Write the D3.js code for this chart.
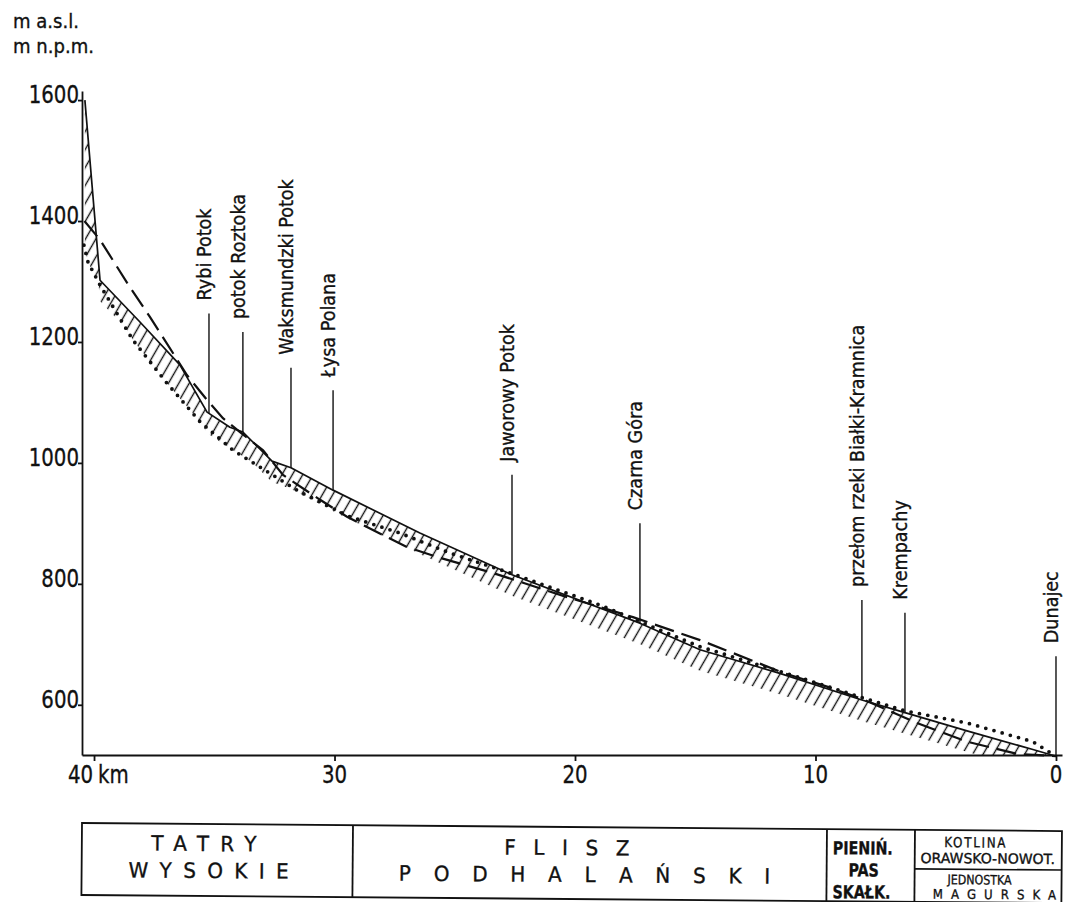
<!DOCTYPE html>
<html>
<head>
<meta charset="utf-8">
<script src="https://cdnjs.cloudflare.com/ajax/libs/d3/7.8.5/d3.min.js"></script>
<style>
body { margin: 0; background: #fff; }
svg text { font-family: "DejaVu Sans", sans-serif; fill: #111; stroke: #111; stroke-width: 0.35px; }
</style>
</head>
<body>
<div class="figure"></div>
<script>
// longitudinal profile, km above the Dunajec mouth vs. m a.s.l.
var riverKm   = [40.38, 39.75, 38.09, 36.43, 35.30, 34.35, 33.81, 32.60, 31.81, 30.06, 26.45, 22.62, 17.30, 14.80, 11.48, 8.07, 6.28, 3.70, 0.96, 0]
var riverElev = [1600, 1302, 1233, 1162, 1084, 1059, 1051, 1003, 992, 955, 884, 815, 735, 691, 652, 608, 587, 557, 526, 515]

var dashedKm   = [40.40, 39.75, 38.63, 37.67, 36.13, 35.30, 34.64, 33.93, 32.97, 32.14, 30.60, 29.48, 28.65, 26.99, 25.61, 23.41, 20.33, 17.59, 14.80, 11.35, 9.52, 8.07, 5.78, 3.70, 1.62, 0]
var dashedElev = [1400, 1369, 1298, 1241, 1145, 1104, 1074, 1051, 1021, 980, 939, 911, 894, 861, 843, 818, 778, 745, 707, 653, 630, 610, 570, 539, 519, 515]

var dottedKm   = [40.42, 40.25, 39.75, 38.38, 36.97, 35.59, 34.22, 32.89, 31.44, 29.36, 27.28, 25.20, 22.70, 18.96, 14.80, 10.65, 8.07, 6.28, 3.70, 0.96, 0]
var dottedElev = [1360, 1332, 1294, 1203, 1132, 1068, 1021, 988, 952, 911, 884, 851, 818, 765, 696, 645, 612, 590, 570, 539, 515]

var placeNames = ["Rybi Potok", "potok Roztoka", "Waksmundzki Potok", "Łysa Polana", "Jaworowy Potok",
                  "Czarna Góra", "przełom rzeki Białki-Kramnica", "Krempachy", "Dunajec"]
var placeKm = [35.22, 33.81, 31.81, 30.06, 22.62, 17.30, 8.07, 6.28, 0]

var yTicks = [600, 800, 1000, 1200, 1400, 1600]
var xTicks = [40, 30, 20, 10, 0]

var unitLines = ["m a.s.l.", "m n.p.m."]

var dim = {w: 1067, h: 902}

var svg = d3.select("div.figure")
    .append("svg")
    .attr("width", dim.w)
    .attr("height", dim.h)

svg.append("rect").attr("width", dim.w).attr("height", dim.h).attr("fill", "#fff")

var xScale = d3.scaleLinear().domain([40.5, -0.25]).range([82, 1062])
var yScale = d3.scaleLinear().domain([517, 1615]).range([755, 91])
var axisY = yScale(517)

var elevAt = function(kms, elevs, km) {
    for (var i = 0; i < kms.length - 1; i++) {
        if (km <= kms[i] && km >= kms[i + 1]) {
            var t = (kms[i] - km) / (kms[i] - kms[i + 1])
            return elevs[i] + (elevs[i + 1] - elevs[i]) * t
        }
    }
    return null
}

var line = d3.line()
    .x(function(d) { return xScale(d[0]) })
    .y(function(d) { return yScale(d[1]) })

var zip = function(a, b) { return a.map(function(v, i) { return [v, b[i]] }) }

// hatch pattern hanging below the river line
var defs = svg.append("defs")
defs.append("pattern")
    .attr("id", "hatch")
    .attr("patternUnits", "userSpaceOnUse")
    .attr("width", 9).attr("height", 9)
    .attr("patternTransform", "rotate(30)")
    .append("line")
    .attr("x1", 4.5).attr("y1", 0).attr("x2", 4.5).attr("y2", 9)
    .attr("stroke", "#111").attr("stroke-width", 1.4)

var bandTop = [], bandBottom = []
var bandKms = d3.range(riverKm[0], 0, -0.04)
bandKms.push(0)
bandKms.forEach(function(km) {
    var top = yScale(elevAt(riverKm, riverElev, km))
    var dot = elevAt(dottedKm, dottedElev, km)
    var low = top + 21
    if (dot !== null) low = Math.max(low, yScale(dot))
    low = Math.max(top, Math.min(low, axisY))
    bandTop.push([xScale(km), top])
    bandBottom.push([xScale(km), low])
})

svg.append("path")
    .attr("d", d3.line()(bandTop.concat(bandBottom.reverse())) + "Z")
    .attr("fill", "url(#hatch)")
    .attr("stroke", "none")

svg.append("path")
    .attr("d", line(zip(dottedKm, dottedElev)))
    .attr("fill", "none")
    .attr("stroke", "#111")
    .attr("stroke-width", 3.8)
    .attr("stroke-linecap", "round")
    .attr("stroke-dasharray", "0,8.5")

svg.append("path")
    .attr("d", line(zip(dashedKm, dashedElev)))
    .attr("fill", "none")
    .attr("stroke", "#111")
    .attr("stroke-width", 2.2)
    .attr("stroke-dasharray", "20,8")

svg.append("path")
    .attr("d", line(zip(riverKm, riverElev)))
    .attr("fill", "none")
    .attr("stroke", "#111")
    .attr("stroke-width", 1.7)
    .attr("stroke-linejoin", "round")

// axes
var xAxis = d3.axisBottom(xScale).tickValues(xTicks).tickSize(6).tickSizeOuter(0).tickFormat("")
var yAxis = d3.axisLeft(yScale).tickValues(yTicks).tickSize(4).tickSizeOuter(0).tickFormat("")

svg.append("g")
    .attr("class", "x axis")
    .attr("transform", "translate(0," + axisY + ")")
    .call(xAxis)

svg.append("g")
    .attr("class", "y axis")
    .attr("transform", "translate(82,0)")
    .call(yAxis)

svg.selectAll(".axis path, .axis line")
    .attr("stroke", "#111")
    .attr("stroke-width", 1.8)

var narrowText = function(x, y, str, size, sx, anchor) {
    return svg.append("text")
        .attr("transform", "translate(" + x + "," + y + ") scale(" + sx + ",1)")
        .attr("text-anchor", anchor)
        .style("font-size", size + "px")
        .text(str)
}

yTicks.forEach(function(v) {
    narrowText(79, yScale(v) + 3, v, 25, 0.79, "end")
})

xTicks.forEach(function(v) {
    if (v === 40) {
        narrowText(xScale(v) - 1, 783, v, 25, 0.79, "end")
        narrowText(xScale(v) + 4, 783, "km", 25, 0.79, "start")
    } else {
        narrowText(xScale(v), 783, v, 25, 0.79, "middle")
    }
})

unitLines.forEach(function(s, i) {
    narrowText(13, 28 + i * 25, s, 19, 0.95, "start")
})

// place names with leader lines
placeNames.forEach(function(name, i) {
    var px = xScale(placeKm[i])
    var py = yScale(elevAt(riverKm, riverElev, placeKm[i]))
    svg.append("line")
        .attr("x1", px).attr("x2", px)
        .attr("y1", py - 100).attr("y2", py)
        .attr("stroke", "#111")
        .attr("stroke-width", 1.4)
    svg.append("text")
        .attr("transform", "translate(" + (px + 2) + "," + (py - 113) + ") rotate(-90) scale(0.88,1)")
        .style("font-size", "20px")
        .text(name)
})

// geological units under the profile
var unitCells = [0, 271, 745, 833, 980]
var table = svg.append("g")
    .attr("transform", "translate(82,823) rotate(0.47)")

table.append("rect")
    .attr("width", 980).attr("height", 72)
    .attr("fill", "none").attr("stroke", "#111").attr("stroke-width", 1.8)

table.selectAll("line.cell")
    .data(unitCells.slice(1, -1)).enter()
    .append("line")
    .attr("x1", function(d) { return d }).attr("x2", function(d) { return d })
    .attr("y1", 0).attr("y2", 72)
    .attr("stroke", "#111").attr("stroke-width", 1.8)

table.append("line")
    .attr("x1", 833).attr("x2", 980).attr("y1", 39).attr("y2", 39)
    .attr("stroke", "#111").attr("stroke-width", 1.6)

var tableText = function(x, y, str, size, sx, ls, weight) {
    table.append("text")
        .attr("transform", "translate(" + x + "," + y + ") scale(" + sx + ",1)")
        .attr("x", ls / 2)
        .attr("text-anchor", "middle")
        .style("font-size", size + "px")
        .style("letter-spacing", ls + "px")
        .style("font-weight", weight || "normal")
        .text(str)
}

tableText(122, 27, "TATRY", 21, 0.95, 12)
tableText(127, 54, "WYSOKIE", 21, 0.95, 12)
tableText(485, 28, "FLISZ", 21, 0.95, 18.5)
tableText(503, 55, "PODHALAŃSKI", 21, 0.95, 24)
tableText(781, 25, "PIENIŃ.", 18, 0.79, 0, "bold")
tableText(782, 47, "PAS", 18, 0.79, 0, "bold")
tableText(780, 69, "SKAŁK.", 18, 0.79, 0, "bold")
tableText(893, 17, "KOTLINA", 14, 0.85, 2)
tableText(906, 33, "ORAWSKO-NOWOT.", 14, 1, 0)
tableText(898, 54, "JEDNOSTKA", 13, 0.85, 0)
tableText(913, 68.5, "MAGURSKA", 13, 0.9, 9)
</script>
</body>
</html>
